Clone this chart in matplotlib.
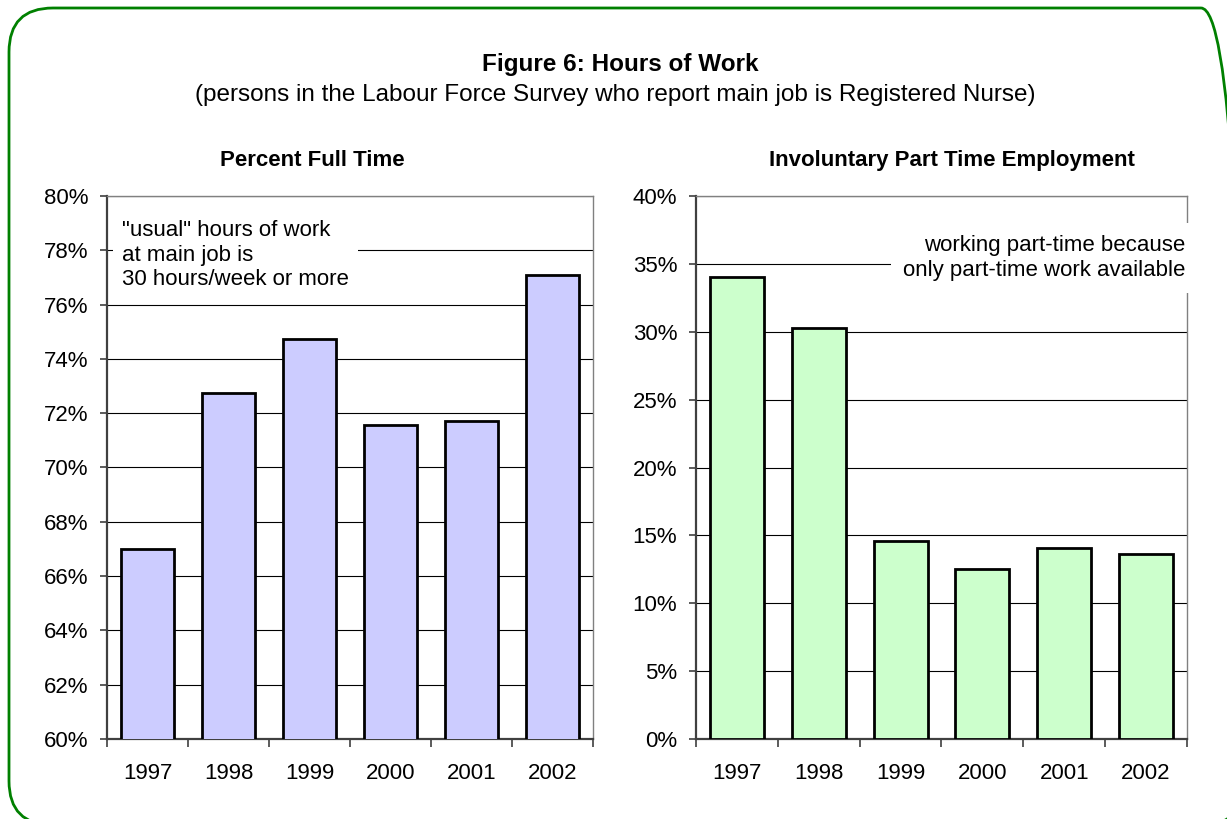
import numpy as np
import matplotlib
matplotlib.use('Agg')
import matplotlib.pyplot as plt
from matplotlib.patches import FancyBboxPatch
from matplotlib.transforms import IdentityTransform
from matplotlib.ticker import PercentFormatter, MultipleLocator, FixedLocator

plt.rcParams['font.family'] = ['Liberation Sans', 'DejaVu Sans']

# values (percent)
years = ['1997', '1998', '1999', '2000', '2001', '2002']
full_time = [66.98, 72.75, 74.74, 71.55, 71.70, 77.10]
invol_pt = [34.0, 30.3, 14.6, 12.5, 14.1, 13.6]

W, H = 1227, 819


def px_box(x0, y0, x1, y1):
    # pixel box (top-left origin) -> figure fraction rect
    return [x0 / W, 1 - y1 / H, (x1 - x0) / W, (y1 - y0) / H]


def bar_panel(ax, values, color, ymin, ymax, step):
    x = np.arange(len(years))
    ax.bar(x, values, width=0.66, color=color, edgecolor='black',
           linewidth=2.0, zorder=3)
    ax.set_xlim(-0.5, len(years) - 0.5)
    ax.set_ylim(ymin, ymax)
    ax.yaxis.set_major_locator(MultipleLocator(step))
    ax.yaxis.set_major_formatter(PercentFormatter(xmax=100, decimals=0))
    ax.grid(True, axis='y', color='black', linewidth=0.8, zorder=1)
    ax.set_axisbelow(True)

    # labels centred under bars, tick marks between categories
    ax.set_xticks(x)
    ax.set_xticklabels(years)
    ax.xaxis.set_minor_locator(FixedLocator(np.arange(len(years) + 1) - 0.5))
    ax.tick_params(axis='x', which='major', length=0, pad=17, labelsize=16)
    ax.tick_params(axis='x', which='minor', length=6, width=1.2,
                   color='#404040', direction='out')
    ax.tick_params(axis='y', length=5, width=1.2, color='#404040',
                   direction='out', pad=8.5, labelsize=16)

    for side in ['left', 'bottom']:
        ax.spines[side].set_color('#404040')
        ax.spines[side].set_linewidth(1.6)
    for side in ['top', 'right']:
        ax.spines[side].set_color('#808080')
        ax.spines[side].set_linewidth(1.0)


fig = plt.figure(figsize=(W / 100, H / 100), dpi=100)

ax1 = fig.add_axes(px_box(107, 196, 593, 739))
bar_panel(ax1, full_time, '#ccccff', 60, 80, 2)
ax1.text(0.031, 0.891, '"usual" hours of work\nat main job is\n30 hours/week or more',
         transform=ax1.transAxes, ha='left', va='center', fontsize=16,
         linespacing=1.2, zorder=5,
         bbox=dict(facecolor='white', edgecolor='none', pad=6.5))

ax2 = fig.add_axes(px_box(696, 196, 1187, 739))
bar_panel(ax2, invol_pt, '#ccffcc', 0, 40, 5)
ax2.text(0.996, 0.886, 'working part-time because\nonly part-time work available',
         transform=ax2.transAxes, ha='right', va='center', fontsize=16,
         linespacing=1.25, zorder=5,
         bbox=dict(facecolor='white', edgecolor='none', pad=8.5))

# titles
fig.text(620 / W, 1 - 70.5 / H, 'Figure 6: Hours of Work', ha='center',
         va='baseline', fontsize=17.5, fontweight='bold')
fig.text(615 / W, 1 - 101 / H,
         '(persons in the Labour Force Survey who report main job is Registered Nurse)',
         ha='center', va='baseline', fontsize=17.5)
fig.text(312 / W, 1 - 166 / H, 'Percent Full Time', ha='center', va='baseline',
         fontsize=16, fontweight='bold')
fig.text(952 / W, 1 - 166 / H, 'Involuntary Part Time Employment', ha='center',
         va='baseline', fontsize=16, fontweight='bold')

# green rounded frame, its right and bottom sides run off the picture
frame = FancyBboxPatch((9, -6), 1236, 817, boxstyle='round,pad=0,rounding_size=44',
                       transform=IdentityTransform(), fill=False,
                       edgecolor='#008000', linewidth=2)
fig.add_artist(frame)

fig.savefig('out.png', dpi=100)
